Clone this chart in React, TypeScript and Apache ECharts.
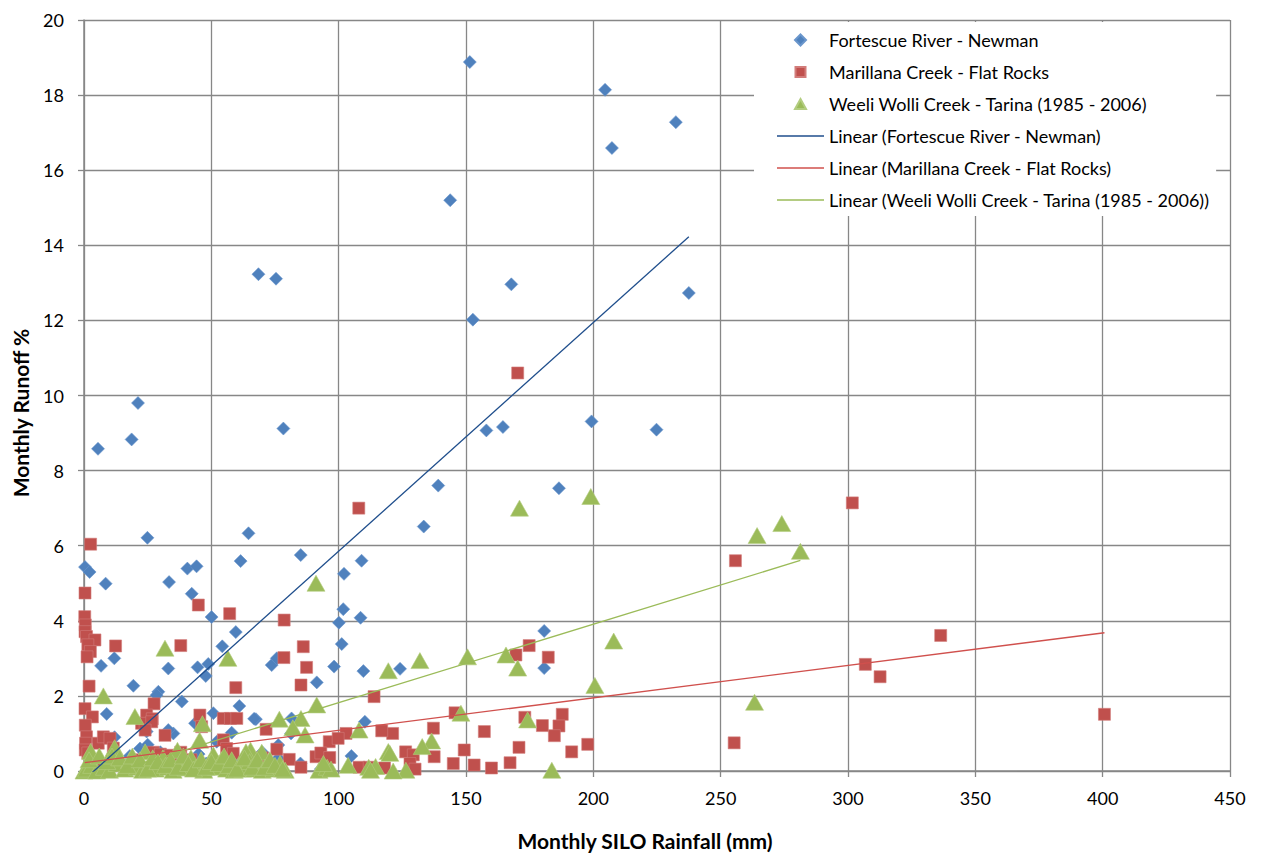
import React, { useEffect, useRef } from "react";
import * as echarts from "echarts";

const seriesNames = [
  "Fortescue River - Newman",
  "Marillana Creek - Flat Rocks",
  "Weeli Wolli Creek - Tarina (1985 - 2006)",
];
const trendNames = seriesNames.map((n) => `Linear (${n})`);
const trendSlope = [0.0609, 0.00864, 0.0209];
const trendIntercept = [-0.237, 0.22, -0.27];

const xTitle = "Monthly SILO Rainfall (mm)";
const yTitle = "Monthly Runoff %";

const fortescue: number[][] = [
  [151.5, 18.88], [204.6, 18.14], [232.4, 17.28], [207.3, 16.59], [143.8, 15.2],
  [68.5, 13.23], [75.4, 13.11], [167.8, 12.96], [237.5, 12.73], [152.7, 12.02],
  [21.2, 9.8], [18.7, 8.83], [5.5, 8.58], [78.3, 9.12], [158, 9.07], [164.5, 9.16],
  [199.3, 9.31], [224.8, 9.09], [139.1, 7.6], [186.5, 7.53], [133.4, 6.51],
  [64.6, 6.33], [24.9, 6.21], [0.4, 5.43], [2.2, 5.3], [8.5, 4.99], [33.4, 5.03],
  [40.6, 5.39], [44.2, 5.45], [61.5, 5.59], [85.1, 5.75], [109, 5.6], [102.1, 5.25],
  [42.3, 4.72], [50.1, 4.1], [101.8, 4.31], [108.6, 4.08], [100.1, 3.95], [59.6, 3.7],
  [180.7, 3.73], [54.3, 3.32], [101.2, 3.38], [11.9, 3.0], [6.7, 2.8], [33.1, 2.73],
  [44.6, 2.76], [48.8, 2.85], [47.8, 2.53], [73.7, 2.82], [75.7, 3.0], [98.2, 2.78],
  [109.7, 2.66], [124.1, 2.72], [180.7, 2.74], [19.4, 2.27], [29.2, 2.11], [28.5, 2.02],
  [91.4, 2.36], [38.4, 1.85], [61, 1.73], [8.9, 1.52], [50.8, 1.54], [67.5, 1.38],
  [66.8, 1.39], [81.5, 1.4], [110.3, 1.31], [43.6, 1.27], [24.6, 1.05], [35.1, 1.0],
  [33.1, 1.09], [58, 1.02], [81.3, 1.0], [52.1, 0.78], [76.3, 0.69], [76.3, 0.34],
  [1.5, 0.1], [3, 0.3], [10, 0.2], [15, 0.05], [18, 0.4], [22, 0.6], [27, 0.15],
  [30, 0.5], [36, 0.3], [40, 0.1], [45, 0.45], [48, 0.2], [55, 0.05], [62, 0.3],
  [66, 0.1], [70, 0.5], [85, 0.2], [93, 0.05], [105, 0.4], [1, 0.8], [12, 0.9], [25, 0.7],
];

const marillana: number[][] = [
  [170.3, 10.6], [107.9, 7.0], [301.7, 7.14], [2.6, 6.04], [255.8, 5.6], [0.4, 4.74],
  [44.9, 4.42], [57.2, 4.19], [78.6, 4.02], [0.3, 4.11], [0.5, 3.89], [0.4, 3.71],
  [1, 3.58], [4.3, 3.49], [1.5, 3.36], [2.5, 3.18], [1.2, 3.04], [12.4, 3.33],
  [38, 3.34], [86.1, 3.31], [78.5, 3.02], [87.4, 2.76], [174.8, 3.34], [169.6, 3.09],
  [182.3, 3.03], [336.4, 3.61], [306.8, 2.84], [312.6, 2.51], [2, 2.26], [59.6, 2.22],
  [85.2, 2.29], [113.9, 1.98], [27.5, 1.79], [0.4, 1.66], [3.3, 1.44], [24.6, 1.49],
  [26.8, 1.39], [22.6, 1.27], [26.6, 1.31], [24, 1.09], [45.5, 1.49], [46.2, 1.18],
  [54.7, 1.4], [57.5, 1.4], [60, 1.4], [71.5, 1.11], [145.7, 1.55], [187.8, 1.51],
  [400.7, 1.51], [186.5, 1.2], [180, 1.21], [173.1, 1.43], [184.7, 0.94], [137.2, 1.14],
  [157.2, 1.05], [121.2, 1.0], [116.9, 1.07], [102.9, 1.0], [31.8, 0.95], [0.5, 1.22],
  [1, 0.91], [0.6, 0.74], [0.5, 0.56], [1.5, 0.48], [5.6, 0.74], [7.6, 0.91],
  [10.2, 0.87], [11.5, 0.61], [54.7, 0.83], [56, 0.6], [58.6, 0.47], [96.3, 0.78],
  [99.8, 0.87], [75.7, 0.58], [80.6, 0.31], [85.2, 0.1], [91.1, 0.38], [93, 0.48],
  [96.5, 0.36], [126.3, 0.51], [129.3, 0.43], [128, 0.2], [137.5, 0.38], [149.3, 0.56],
  [153.2, 0.16], [167.3, 0.22], [170.8, 0.63], [191.5, 0.51], [197.8, 0.71], [255.3, 0.75],
  [27.2, 0.5], [30, 0.45], [34, 0.42], [38, 0.5], [108, 0.1], [112, 0.1], [118, 0.08],
  [57.6, 0.1], [20, 0.3], [15, 0.15], [5, 0.2], [42, 0.3], [66, 0.2], [70, 0.35],
  [130, 0.05], [145, 0.2], [160, 0.08],
];

const weeli: number[][] = [
  [199, 7.31], [171, 7.0], [274, 6.59], [264.3, 6.27], [281.3, 5.85], [91.1, 5.0],
  [208, 3.46], [31.8, 3.27], [56.5, 3.0], [150.6, 3.04], [165.7, 3.09], [170.3, 2.74],
  [131.9, 2.94], [119.5, 2.67], [200.6, 2.28], [7.6, 2.0], [263.3, 1.83], [91.4, 1.76],
  [148, 1.54], [20, 1.45], [76.7, 1.38], [85.2, 1.4], [174.2, 1.36], [46.5, 1.26],
  [82, 1.15], [86.8, 0.96], [108, 1.09], [45.4, 0.82], [136.5, 0.8], [132.8, 0.65],
  [65.4, 0.55], [2.6, 0.52], [12, 0.62], [24, 0.51], [36.7, 0.55], [50.8, 0.43],
  [63.6, 0.51], [69.8, 0.5], [119.5, 0.52], [120.1, 0.47], [183.7, 0.02], [126.4, 0.02],
  [0, 0], [1, 0.05], [3, 0.15], [5, 0], [8, 0.1], [10, 0.02], [13, 0.2], [16, 0.05],
  [18, 0.3], [21, 0.1], [23, 0.02], [26, 0.2], [28, 0.05], [31, 0.35], [33, 0.1],
  [35, 0.02], [38, 0.25], [40, 0.08], [42, 0.35], [44, 0.1], [47, 0.02], [49, 0.2],
  [52, 0.1], [54, 0.3], [56, 0.05], [59, 0.02], [61, 0.15], [62.3, 0.05], [65, 0.25],
  [67, 0.05], [70, 0.02], [72, 0.15], [74.6, 0.05], [77, 0.2], [79, 0.02], [92.3, 0.02],
  [95.5, 0.1], [97, 0.05], [103.7, 0.15], [111.8, 0.1], [114.5, 0.12], [121.4, 0.0],
  [2, 0.3], [6, 0.4], [9, 0.25], [11, 0.4], [14, 0.35], [17, 0.15], [19, 0.4],
  [22, 0.3], [25, 0.05], [27, 0.35], [29, 0.25], [32, 0.15], [34, 0.3], [37, 0.1],
  [39, 0.4], [41, 0.2], [43, 0.05], [46, 0.3], [48, 0.1], [50, 0.25], [53, 0.2],
  [55, 0.4], [57, 0.15], [58, 0.3], [60, 0.05], [63, 0.35], [66, 0.1], [68, 0.3],
  [71, 0.1], [73, 0.3], [75, 0.15], [78, 0.05], [94, 0.2], [112.5, 0.02],
];

const FONT = "Lato, 'Open Sans', sans-serif";
const GRID_COLOR = "#878787";

// legend icons: shapes centred in a 47 x 11 box
const legendIcons = [
  "path://M0 0 M47 11 M23.5 0 L29 5.5 L23.5 11 L18 5.5 Z",
  "path://M0 0 M47 11 M18.5 0.5 L28.5 0.5 L28.5 10.5 L18.5 10.5 Z",
  "path://M0 0 M47 11 M23.5 0.5 L29 10.5 L18 10.5 Z",
  "path://M0 0 M47 11 M0 4.8 L47 4.8 L47 6.2 L0 6.2 Z",
];

function trend(data: number[][], slope: number, intercept: number): number[][] {
  const xs = data.map((d) => d[0]);
  const x0 = Math.min(...xs);
  const x1 = Math.max(...xs);
  return [
    [x0, slope * x0 + intercept],
    [x1, slope * x1 + intercept],
  ];
}

export default function App() {
  const ref = useRef<HTMLDivElement>(null);
  useEffect(() => {
    if (!ref.current) return;
    const chart = echarts.init(ref.current, undefined, { renderer: "svg" });
    const all = [fortescue, marillana, weeli];
    const colors = ["#4F81BD", "#C0504D", "#9BBB59"];
    const borders = ["#6A96CC", "#D27C7A", "#B3CD80"];
    const lineColors = ["#1F4E8C", "#D0504D", "#9BBB59"];
    const symbols = ["diamond", "rect", "triangle"];
    const sizes: any[] = [[13, 13], [12, 12], [18, 16]];

    const scatterSeries = all.map((d, i) => ({
      name: seriesNames[i],
      type: "scatter",
      data: d,
      symbol: symbols[i],
      symbolSize: sizes[i],
      clip: false,
      itemStyle: { color: colors[i], borderColor: borders[i], borderWidth: 0.6, opacity: 1 },
      z: 2 + i,
    }));
    const lineSeries = all.map((d, i) => ({
      name: trendNames[i],
      type: "line",
      data: trend(d, trendSlope[i], trendIntercept[i]),
      showSymbol: false,
      symbol: "none",
      clip: true,
      lineStyle: { color: lineColors[i], width: 1.3 },
      itemStyle: { color: lineColors[i] },
      z: 6,
    }));

    chart.setOption({
      animation: false,
      backgroundColor: "#fff",
      textStyle: { fontFamily: FONT },
      grid: { left: 84, top: 20, width: 1146, height: 751, containLabel: false },
      xAxis: {
        type: "value",
        min: 0,
        max: 450,
        interval: 50,
        axisLine: { show: true, onZero: false, lineStyle: { color: GRID_COLOR, width: 1.5 } },
        axisTick: { show: true, length: 6, lineStyle: { color: GRID_COLOR, width: 1.3 } },
        splitLine: { show: true, lineStyle: { color: GRID_COLOR, width: 1.3 } },
        axisLabel: { fontSize: 18, color: "#000", margin: 18, fontFamily: FONT },
      },
      yAxis: {
        type: "value",
        min: 0,
        max: 20,
        interval: 2,
        axisLine: { show: true, onZero: false, lineStyle: { color: GRID_COLOR, width: 1.5 } },
        axisTick: { show: true, length: 6, lineStyle: { color: GRID_COLOR, width: 1.3 } },
        splitLine: { show: true, lineStyle: { color: GRID_COLOR, width: 1.3 } },
        axisLabel: { fontSize: 18, color: "#000", margin: 20, fontFamily: FONT },
      },
      legend: {
        orient: "vertical",
        left: 754,
        top: 22,
        padding: [9, 6, 7, 22],
        backgroundColor: "#fff",
        itemWidth: 47,
        itemHeight: 11,
        itemGap: 14,
        textStyle: { fontSize: 18, color: "#000", fontFamily: FONT },
        data: [
          { name: seriesNames[0], icon: legendIcons[0] },
          { name: seriesNames[1], icon: legendIcons[1] },
          { name: seriesNames[2], icon: legendIcons[2] },
          { name: trendNames[0], icon: legendIcons[3] },
          { name: trendNames[1], icon: legendIcons[3] },
          { name: trendNames[2], icon: legendIcons[3] },
        ],
        z: 10,
      },
      graphic: [
        {
          type: "text",
          x: 645,
          y: 840,
          style: {
            text: xTitle,
            font: `bold 21px ${FONT}`,
            fill: "#000",
            textAlign: "center",
            textVerticalAlign: "middle",
          },
        },
        {
          type: "text",
          x: 20,
          y: 413,
          rotation: Math.PI / 2,
          style: {
            text: yTitle,
            font: `bold 21px ${FONT}`,
            fill: "#000",
            textAlign: "center",
            textVerticalAlign: "middle",
          },
        },
      ],
      series: [...scatterSeries, ...lineSeries],
    });
    return () => chart.dispose();
  }, []);
  return (
    <div
      ref={ref}
      style={{ position: "absolute", left: 0, top: 0, width: 1265, height: 854 }}
    />
  );
}
